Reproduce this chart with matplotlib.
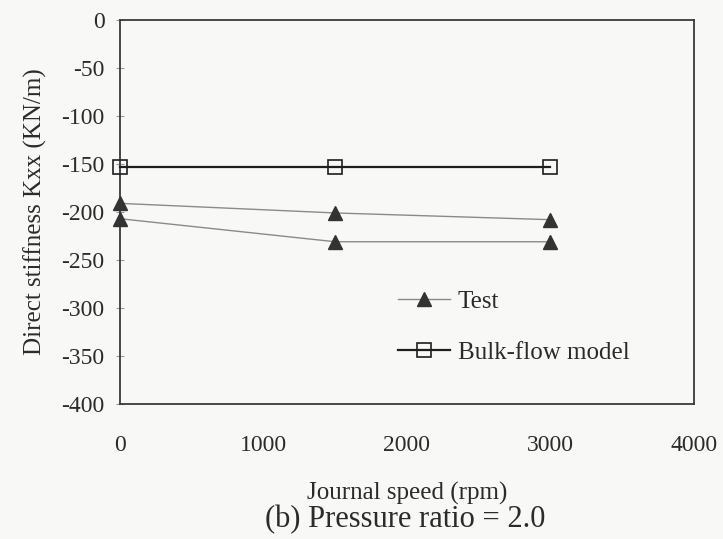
#!/usr/bin/env python3
"""Direct stiffness Kxx vs. journal speed at pressure ratio 2.0."""

import matplotlib

matplotlib.use("Agg")
import matplotlib.pyplot as plt

# Journal speed (rpm)
speed = [0, 1500, 3000]

# Measured direct stiffness, two test runs (KN/m)
test_a = [-191, -201, -208]
test_b = [-207, -231, -231]

# Bulk-flow model prediction (KN/m)
model = [-153, -153, -153]

INK = "#2b2b2b"
PAPER = "#f8f8f6"

plt.rcParams["font.family"] = ["Liberation Serif", "DejaVu Serif"]
plt.rcParams["axes.unicode_minus"] = False

fig = plt.figure(figsize=(7.23, 5.39), dpi=100, facecolor=PAPER)
ax = fig.add_axes([120 / 723, 1 - 404 / 539, 574 / 723, 384 / 539])
ax.set_facecolor(PAPER)

tri = dict(color="#8a8a8a", linewidth=1.0, marker="^", markersize=10,
           markerfacecolor="#333333", markeredgecolor="#333333",
           zorder=3, clip_on=False)
ax.plot(speed, test_a, label="Test", **tri)
ax.plot(speed, test_b, **tri)
ax.plot(speed, model, color="#1e1e1e", linewidth=1.6, marker="s",
        markersize=10, markerfacecolor="none", markeredgecolor="#1e1e1e",
        markeredgewidth=1.2, label="Bulk-flow model", zorder=3,
        clip_on=False)

ax.set_xlim(0, 4000)
ax.set_ylim(-400, 0)
ax.set_xticks(range(0, 4001, 1000))
ax.set_yticks(range(-400, 1, 50))

ax.tick_params(axis="y", direction="inout", length=6, width=0.8,
               colors="#9a9a9a", labelcolor=INK, labelsize=17, pad=8)
ax.tick_params(axis="x", length=0, labelcolor=INK, labelsize=17, pad=22)
for spine in ax.spines.values():
    spine.set_color("#3a3a3a")
    spine.set_linewidth(1.3)

ax.set_ylabel("Direct stiffness Kxx (KN/m)", fontsize=18, color=INK)
ax.yaxis.set_label_coords(-0.128, 0.5)
ax.set_xlabel("Journal speed (rpm)", fontsize=18, color=INK)
ax.xaxis.set_label_coords(0.5, -0.204)
fig.text(405 / 723, 1 - 520 / 539, "(b) Pressure ratio = 2.0", fontsize=22,
         color=INK, ha="center", va="center")

ax.legend(loc="center left", bbox_to_anchor=(0.484, 0.2), frameon=False,
          fontsize=18, labelcolor=INK, handlelength=2.1, handletextpad=0.3,
          labelspacing=1.15, borderpad=0, borderaxespad=0)

fig.savefig("out.png", dpi=100, facecolor=PAPER)
